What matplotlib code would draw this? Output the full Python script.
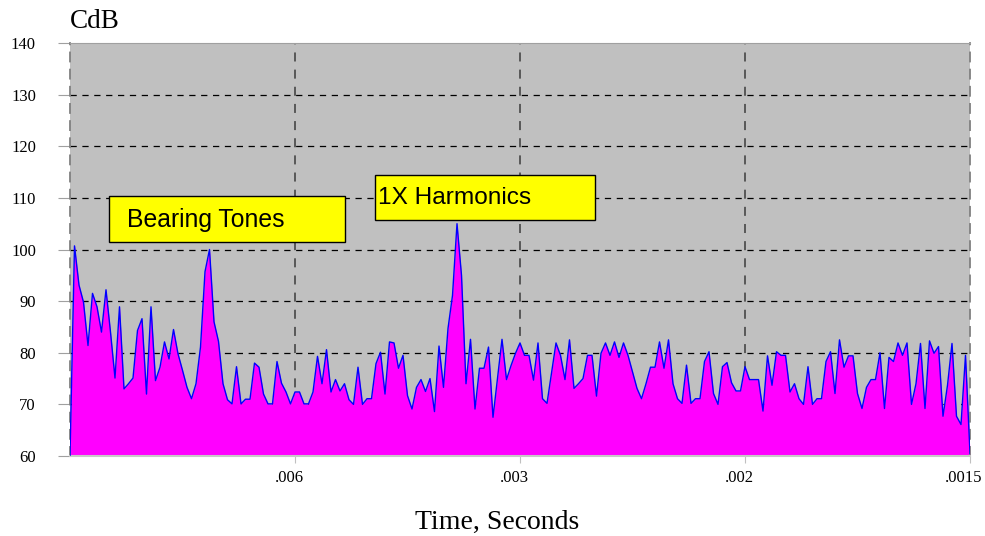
import numpy as np
import matplotlib
matplotlib.use("Agg")
import matplotlib.pyplot as plt
import matplotlib.transforms as mtransforms
from matplotlib.patches import Rectangle

# spectrum amplitudes (CdB), 201 lines
cdb = [
    60.0, 100.7, 93.1, 89.8, 81.4, 91.5, 88.9, 84.0, 92.2, 84.0,
    75.1, 88.9, 73.0, 74.0, 75.1, 84.3, 86.6, 72.0, 88.9, 74.6,
    77.2, 82.1, 78.8, 84.5, 79.8, 76.6, 73.3, 71.1, 74.0, 81.1,
    95.7, 100.0, 86.0, 82.2, 74.0, 70.9, 70.1, 77.3, 70.1, 71.0,
    71.0, 78.0, 77.2, 72.0, 70.1, 70.1, 78.3, 74.1, 72.4, 70.1,
    72.4, 72.4, 70.1, 70.1, 72.4, 79.3, 74.0, 80.6, 72.4, 74.8,
    72.6, 74.0, 70.9, 70.0, 77.2, 70.0, 71.1, 71.1, 77.9, 80.1,
    72.0, 82.1, 81.9, 77.0, 79.5, 71.7, 69.1, 73.3, 74.8, 72.5,
    75.0, 68.6, 81.3, 73.3, 84.7, 91.1, 105.0, 95.0, 74.0, 82.6,
    69.1, 77.0, 77.0, 81.1, 67.5, 75.0, 82.6, 74.8, 77.5, 79.9,
    81.9, 79.5, 79.5, 74.7, 81.9, 71.1, 70.2, 76.0, 81.9, 79.5,
    74.8, 82.5, 73.1, 74.0, 75.0, 79.5, 79.5, 71.6, 79.9, 81.9,
    79.5, 82.1, 79.1, 81.9, 79.5, 76.3, 73.1, 71.1, 74.0, 77.2,
    77.2, 82.1, 77.0, 82.5, 74.0, 71.1, 70.2, 77.6, 70.2, 71.1,
    71.1, 78.3, 80.2, 72.1, 70.0, 77.3, 78.1, 74.2, 72.6, 72.6,
    77.3, 74.8, 74.8, 74.8, 68.7, 79.4, 73.7, 80.2, 79.5, 79.5,
    72.4, 74.0, 71.1, 70.0, 77.3, 70.0, 71.1, 71.1, 78.3, 80.2,
    72.1, 82.5, 77.2, 79.4, 79.4, 72.1, 69.2, 73.3, 74.8, 74.8,
    80.0, 69.2, 79.1, 78.3, 81.9, 79.5, 81.9, 70.0, 74.0, 81.8,
    69.2, 82.3, 79.9, 81.2, 67.7, 73.7, 81.8, 67.7, 66.1, 79.5,
    60.5,
]
lines = np.arange(len(cdb))

xticks = [50, 100, 150, 200]
xlabels = [".006", ".003", ".002", ".0015"]
yticks = list(range(60, 141, 10))

serif = ["Liberation Serif", "DejaVu Serif"]
sans = ["Liberation Sans", "DejaVu Sans"]

fig = plt.figure(figsize=(9.85, 5.36), dpi=100)
ax = fig.add_axes([70 / 985, 80 / 536, 900 / 985, 413 / 536])
ax.set_facecolor("#c0c0c0")

ax.fill_between(lines, cdb, 60, color="#ff00ff", linewidth=0, zorder=2)
ax.plot(lines, cdb, color="#0000ff", linewidth=1.0, zorder=3)

for y in yticks[1:-1]:
    ax.axhline(y, color="black", linewidth=0.9, dashes=(5, 4.5), zorder=1)
for x in xticks[:-1]:
    ax.axvline(x, color="#505050", linewidth=1.3, dashes=(5, 4.5), zorder=1)

ax.set_xlim(0, 200)
ax.set_ylim(60, 140)
ax.set_xticks(xticks)
ax.set_xticklabels(xlabels, fontfamily=serif, fontsize=12)
ax.set_yticks(yticks)
ax.set_yticklabels([str(v) for v in yticks], fontfamily=serif, fontsize=12)
ax.tick_params(axis="y", length=9, color="#a0a0a0", pad=15.5)
ax.tick_params(axis="x", length=5, color="#c0c0c0", pad=5)

# x labels sit a little left of their ticks
shift = mtransforms.ScaledTranslation(-6 / 100, 0, fig.dpi_scale_trans)
for lab in ax.get_xticklabels():
    lab.set_transform(lab.get_transform() + shift)

for side in ["left", "right"]:
    ax.spines[side].set_color("#808080")
    ax.spines[side].set_linestyle((0, (5, 4.5)))
    ax.spines[side].set_linewidth(1.3)
ax.spines["top"].set_color("#a0a0a0")
ax.spines["bottom"].set_color("#c8c8c8")
ax.spines["bottom"].set_linewidth(1.5)

# annotation boxes
ax.add_patch(Rectangle((8.7, 101.5), 52.4, 8.9, facecolor="#ffff00",
                       edgecolor="black", linewidth=1, zorder=5))
ax.text(12.7, 105.7, "Bearing Tones", fontsize=17.8, family=sans,
        va="center", ha="left", zorder=6)
ax.add_patch(Rectangle((67.8, 105.7), 48.9, 8.7, facecolor="#ffff00",
                       edgecolor="black", linewidth=1, zorder=5))
ax.text(68.4, 109.9, "1X Harmonics", fontsize=17.6, family=sans,
        va="center", ha="left", zorder=6)

fig.text(70 / 985, 1 - 22 / 536, "CdB", fontsize=19.5, family=serif, va="center", ha="left")
fig.text(497 / 985, 1 - 522 / 536, "Time, Seconds", fontsize=20, family=serif,
         va="center", ha="center")

fig.savefig("out.png", dpi=100)
